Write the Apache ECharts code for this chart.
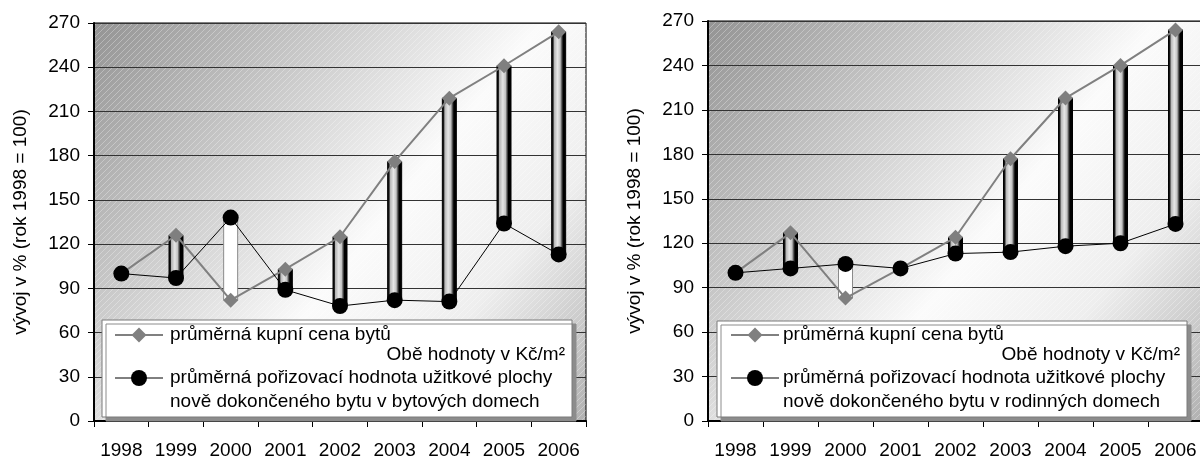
<!doctype html>
<html>
<head>
<meta charset="utf-8">
<title>Vývoj cen bytů</title>
<style>
  html, body { margin: 0; padding: 0; background: #fff; }
  #main { width: 1200px; height: 456px; }
</style>
</head>
<body>
<div id="main"></div>
<script src="https://cdn.jsdelivr.net/npm/echarts@6/dist/echarts.min.js"></script>
<script>
var years = ['1998', '1999', '2000', '2001', '2002', '2003', '2004', '2005', '2006'];
// left chart: bytové domy
var leftPrice = [100, 126, 82, 103, 125, 176, 219, 241, 264];
var leftCost = [100, 97, 138, 89, 78, 82, 81, 134, 113];
// right chart: rodinné domy
var rightPrice = [100, 127, 83, 103, 124, 177, 218, 240, 264];
var rightCost = [100, 103, 106, 103, 113, 114, 118, 120, 133];

var yTicks = { min: 0, max: 270, interval: 30 };
var FONT = '"Liberation Sans", Arial, sans-serif';
var FS = 19;
var yName = 'vývoj v % (rok 1998 = 100)';
var priceLabel = 'průměrná kupní cena bytů';
var unitLabel = 'Obě hodnoty v Kč/m²';
var costLabel1 = 'průměrná pořizovací hodnota užitkové plochy';
var costLabelLeft = 'nově dokončeného bytu v bytových domech';
var costLabelRight = 'nově dokončeného bytu v rodinných domech';

var grids = [
    { left: 94, top: 23, width: 492, height: 398 },
    { left: 708, top: 21, width: 495, height: 400 }
];

var chart = echarts.init(document.getElementById('main'));

// diagonal hatch pattern for the plot background
var hatch = document.createElement('canvas');
hatch.width = 6; hatch.height = 6;
var hc = hatch.getContext('2d');
hc.strokeStyle = 'rgba(255,255,255,0.3)';
hc.lineWidth = 1;
hc.beginPath();
hc.moveTo(0, 6); hc.lineTo(6, 0);
hc.moveTo(-1, 1); hc.lineTo(1, -1);
hc.moveTo(5, 7); hc.lineTo(7, 5);
hc.stroke();

function plotBg() {
    return new echarts.graphic.LinearGradient(0, 0, 1, 1, [
        { offset: 0, color: '#939393' },
        { offset: 0.55, color: '#fbfbfb' },
        { offset: 0.75, color: '#eeeeee' },
        { offset: 1, color: '#b0b0b0' }
    ]);
}

var downFill = new echarts.graphic.LinearGradient(0, 0, 1, 0, [
    { offset: 0, color: '#000' },
    { offset: 0.13, color: '#1a1a1a' },
    { offset: 0.2, color: '#b5b5b5' },
    { offset: 0.42, color: '#e6e6e6' },
    { offset: 0.6, color: '#c4c4c4' },
    { offset: 0.7, color: '#5a5a5a' },
    { offset: 0.8, color: '#000' },
    { offset: 1, color: '#000' }
]);

function barItem(params, api) {
    var x = api.value(0);
    var p1 = api.coord([x, api.value(1)]);
    var p2 = api.coord([x, api.value(2)]);
    var w = 14;
    var top = Math.min(p1[1], p2[1]);
    var h = Math.abs(p1[1] - p2[1]);
    var up = api.value(2) > api.value(1);
    return {
        type: 'rect',
        shape: { x: p1[0] - w / 2, y: top, width: w, height: h },
        style: up ? { fill: '#fff', stroke: '#8a8a8a', lineWidth: 1 }
                  : { fill: downFill, stroke: '#000', lineWidth: 1 }
    };
}

function buildBars(price, cost) {
    return price.map(function (v, i) { return [i, v, cost[i]]; });
}

function axisPair(idx) {
    return {
        x: {
            type: 'category', gridIndex: idx, data: years, z: 2,
            boundaryGap: true,
            axisLine: { lineStyle: { color: '#000', width: 2 } },
            axisTick: { show: true, length: 6, lineStyle: { color: '#000' } },
            axisLabel: { color: '#000', fontSize: FS, fontFamily: FONT, margin: 20, interval: 0 },
            splitLine: { show: false }
        },
        y: {
            type: 'value', gridIndex: idx, z: 2,
            min: yTicks.min, max: yTicks.max, interval: yTicks.interval,
            name: yName, nameLocation: 'middle', nameGap: 64, nameRotate: 90,
            nameTextStyle: { color: '#000', fontSize: FS, fontFamily: FONT },
            axisLine: { show: true, lineStyle: { color: '#000', width: 2 } },
            axisTick: { show: true, length: 6, lineStyle: { color: '#000' } },
            axisLabel: { color: '#000', fontSize: FS, fontFamily: FONT, margin: 14 },
            splitLine: { show: true, lineStyle: { color: '#333', width: 1 } }
        }
    };
}

var a0 = axisPair(0), a1 = axisPair(1);

function legendGroup(box, lineX1, lineX2, textX, textRight, lastLine) {
    var symX = (lineX1 + lineX2) / 2;
    var ys = [335, 355, 378, 402];
    var font = FS + 'px ' + FONT;
    return {
        type: 'group',
        children: [
            { type: 'rect', z: 10, shape: { x: box.x, y: box.y, width: box.w, height: box.h },
              style: { fill: '#fff', stroke: '#7a7a7a', lineWidth: 1,
                       shadowColor: '#8c8c8c', shadowOffsetX: 4, shadowOffsetY: 4, shadowBlur: 0 } },
            { type: 'line', z: 11, shape: { x1: lineX1, y1: ys[0], x2: lineX2, y2: ys[0] },
              style: { stroke: '#808080', lineWidth: 2 } },
            { type: 'polygon', z: 12, shape: { points: [[symX, ys[0] - 7.5], [symX + 7.5, ys[0]], [symX, ys[0] + 7.5], [symX - 7.5, ys[0]]] },
              style: { fill: '#808080' } },
            { type: 'line', z: 11, shape: { x1: lineX1, y1: ys[2], x2: lineX2, y2: ys[2] },
              style: { stroke: '#000', lineWidth: 1 } },
            { type: 'circle', z: 12, shape: { cx: symX, cy: ys[2], r: 8 }, style: { fill: '#000' } },
            { type: 'text', z: 12, x: textX, y: ys[0],
              style: { text: priceLabel, font: font, fill: '#000', verticalAlign: 'middle' } },
            { type: 'text', z: 12, x: textRight, y: ys[1],
              style: { text: unitLabel, font: font, fill: '#000', align: 'right', verticalAlign: 'middle' } },
            { type: 'text', z: 12, x: textX, y: ys[2],
              style: { text: costLabel1, font: font, fill: '#000', verticalAlign: 'middle' } },
            { type: 'text', z: 12, x: textX, y: ys[3],
              style: { text: lastLine, font: font, fill: '#000', verticalAlign: 'middle' } }
        ]
    };
}

chart.setOption({
    animation: false,
    grid: grids.map(function (g) {
        return {
            left: g.left, top: g.top, width: g.width, height: g.height,
            outerBoundsMode: 'none', containLabel: false,
            show: true, backgroundColor: plotBg(), borderColor: '#000', borderWidth: 1
        };
    }),
    xAxis: [a0.x, a1.x],
    yAxis: [a0.y, a1.y],
    graphic: [
        { type: 'rect', z: 1, silent: true,
          shape: { x: grids[0].left, y: grids[0].top, width: grids[0].width, height: grids[0].height },
          style: { fill: { image: hatch, repeat: 'repeat' } } },
        { type: 'rect', z: 1, silent: true,
          shape: { x: grids[1].left, y: grids[1].top, width: grids[1].width, height: grids[1].height },
          style: { fill: { image: hatch, repeat: 'repeat' } } },
        legendGroup({ x: 102, y: 320, w: 470, h: 97 }, 115, 163, 170, 565, costLabelLeft),
        legendGroup({ x: 717, y: 321, w: 470, h: 96 }, 731, 779, 783, 1180, costLabelRight)
    ],
    series: [
        { type: 'custom', xAxisIndex: 0, yAxisIndex: 0, z: 3,
          renderItem: barItem, data: buildBars(leftPrice, leftCost) },
        { type: 'line', name: priceLabel, xAxisIndex: 0, yAxisIndex: 0, z: 4,
          data: leftPrice, symbol: 'diamond', symbolSize: 15,
          itemStyle: { color: '#7f7f7f' }, lineStyle: { color: '#808080', width: 2 } },
        { type: 'line', name: costLabel1, xAxisIndex: 0, yAxisIndex: 0, z: 5,
          data: leftCost, symbol: 'circle', symbolSize: 16,
          itemStyle: { color: '#000' }, lineStyle: { color: '#000', width: 1 } },

        { type: 'custom', xAxisIndex: 1, yAxisIndex: 1, z: 3,
          renderItem: barItem, data: buildBars(rightPrice, rightCost) },
        { type: 'line', name: priceLabel, xAxisIndex: 1, yAxisIndex: 1, z: 4,
          data: rightPrice, symbol: 'diamond', symbolSize: 15,
          itemStyle: { color: '#7f7f7f' }, lineStyle: { color: '#808080', width: 2 } },
        { type: 'line', name: costLabel1, xAxisIndex: 1, yAxisIndex: 1, z: 5,
          data: rightCost, symbol: 'circle', symbolSize: 16,
          itemStyle: { color: '#000' }, lineStyle: { color: '#000', width: 1 } }
    ]
});

window.onresize = chart.resize;
</script>
</body>
</html>
